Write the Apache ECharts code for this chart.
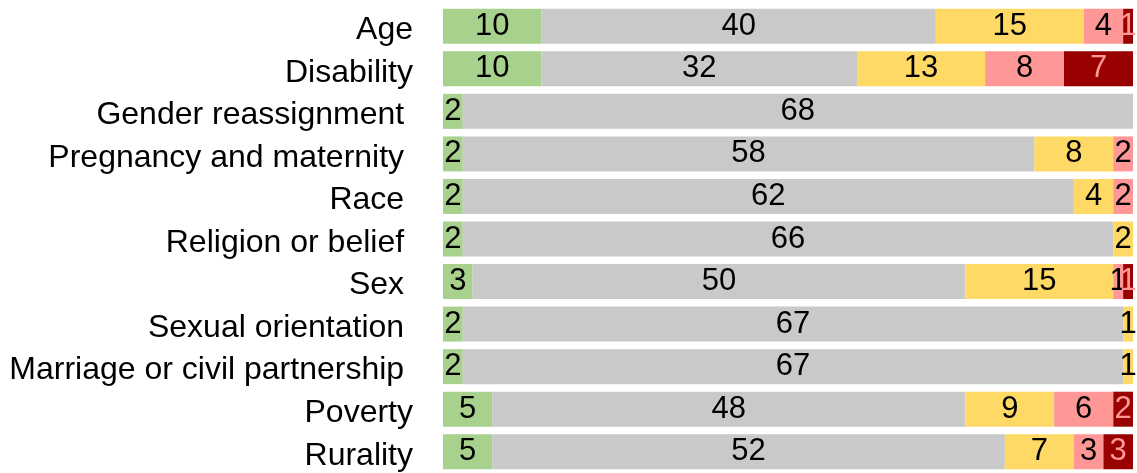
<!DOCTYPE html>
<html>
<head>
<meta charset="utf-8">
<script src="https://cdn.jsdelivr.net/npm/echarts@6/dist/echarts.min.js"></script>
<style>
  html, body { margin: 0; padding: 0; background: #fff; }
  #chart { width: 1137px; height: 473px; }
</style>
</head>
<body>
<div id="chart"></div>
<script>
// categories top to bottom (trailing spaces kept as in the original labels)
var categories = ['Age', 'Disability', 'Gender reassignment ', 'Pregnancy and maternity ', 'Race ',
  'Religion or belief ', 'Sex ', 'Sexual orientation ', 'Marriage or civil partnership ', 'Poverty', 'Rurality']

var greenVals = [10, 10, 2, 2, 2, 2, 3, 2, 2, 5, 5]
var greyVals = [40, 32, 68, 58, 62, 66, 50, 67, 67, 48, 52]
var yellowVals = [15, 13, null, 8, 4, 2, 15, 1, 1, 9, 7]
var pinkVals = [4, 8, null, 2, 2, null, 1, null, null, 6, 3]
var redVals = [1, 7, null, null, null, null, 1, null, null, 2, 3]

var chart = echarts.init(document.getElementById('chart'))

function makeSeries (name, data, color, labelColor) {
  return {
    name: name,
    type: 'bar',
    stack: 'total',
    data: data,
    barWidth: 35,
    itemStyle: { color: color },
    label: {
      show: true,
      position: 'inside',
      color: labelColor,
      fontFamily: 'Liberation Sans, Arial, sans-serif',
      fontSize: 31,
      formatter: function (p) { return p.value ? p.value : '' }
    },
    emphasis: { disabled: true },
    animation: false
  }
}

var option = {
  grid: {
    left: 443,
    right: 4,
    top: 5,
    height: 474
  },
  xAxis: {
    type: 'value',
    min: 0,
    max: 70,
    show: false
  },
  yAxis: {
    type: 'category',
    data: categories,
    inverse: true,
    axisLine: { show: false },
    axisTick: { show: false },
    splitLine: { show: false },
    axisLabel: {
      margin: 30,
      formatter: function (v) { return '{a|' + v + '}' },
      rich: {
        a: {
          color: '#000',
          fontFamily: 'Liberation Sans, Arial, sans-serif',
          fontSize: 32,
          padding: [8, 0, 0, 0]
        }
      }
    }
  },
  series: [
    makeSeries('Green', greenVals, '#A9D18E', '#000'),
    makeSeries('Grey', greyVals, '#C9C9C9', '#000'),
    makeSeries('Yellow', yellowVals, '#FFD966', '#000'),
    makeSeries('Pink', pinkVals, '#FF9797', '#000'),
    makeSeries('Red', redVals, '#990000', '#FF9797')
  ]
}

chart.setOption(option)
</script>
</body>
</html>
